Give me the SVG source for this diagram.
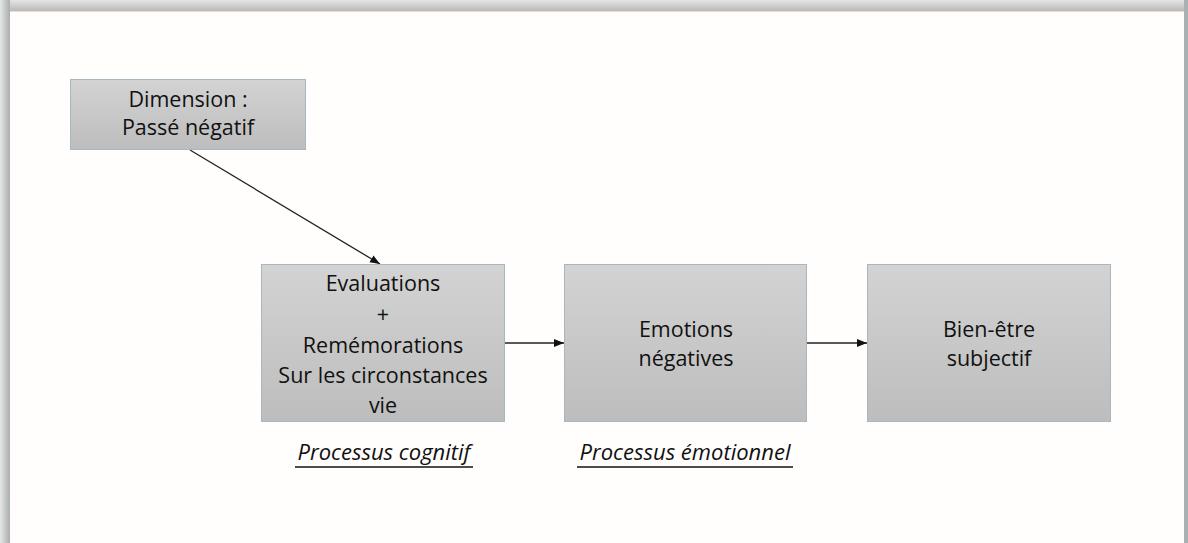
<svg xmlns="http://www.w3.org/2000/svg" width="1188" height="543" viewBox="0 0 1188 543">
<defs>
<linearGradient id="topShadow" x1="0" y1="0" x2="0" y2="1">
<stop offset="0" stop-color="#e4e4e4"/>
<stop offset="1" stop-color="#b4b6b6"/>
</linearGradient>
<linearGradient id="leftShadow" x1="0" y1="0" x2="1" y2="0">
<stop offset="0" stop-color="#e6e6e6"/>
<stop offset="1" stop-color="#a9adad"/>
</linearGradient>
<linearGradient id="boxFill" x1="0" y1="0" x2="0" y2="1">
<stop offset="0" stop-color="#d3d3d3"/>
<stop offset="1" stop-color="#bdbdbd"/>
</linearGradient>
<marker id="arrow" viewBox="0 0 10 10" refX="10" refY="5" markerWidth="10" markerHeight="10" markerUnits="userSpaceOnUse" orient="auto">
<path d="M0,1 L10,5 L0,9 z" fill="#111"/>
</marker>
<style>
.box { fill: url(#boxFill); stroke: #a8b6bd; stroke-width: 1; }
.t { font-family: "Open Sans", "Liberation Sans", sans-serif; font-size: 21.5px; fill: #111; text-anchor: middle; }
.lab { font-family: "Open Sans", "Liberation Sans", sans-serif; font-size: 22px; font-style: italic; fill: #111; text-anchor: middle; }
.ul { stroke: #111; stroke-width: 1.6; }
.conn { stroke: #222; stroke-width: 1.3; fill: none; marker-end: url(#arrow); }
</style>
</defs>
<rect x="0" y="0" width="1188" height="543" fill="#ffffff"/>
<rect x="0" y="0" width="1188" height="12" fill="url(#topShadow)"/>
<rect x="0" y="0" width="10" height="543" fill="url(#leftShadow)"/>
<rect x="1184" y="0" width="4" height="543" fill="#a9b1b3"/>
<rect x="10" y="11" width="1174" height="532" fill="#fffefd"/>
<line x1="10" y1="11.5" x2="1184" y2="11.5" stroke="#f2d8c8" stroke-width="1"/>

<g id="connectors">
<line class="conn" x1="190" y1="150" x2="380" y2="264"/>
<line class="conn" x1="505" y1="343" x2="564" y2="343"/>
<line class="conn" x1="807" y1="343" x2="867" y2="343"/>
</g>

<g id="node-dimension">
<rect class="box" x="70.5" y="79.5" width="235" height="70"/>
<text class="t" x="188" y="107">Dimension :</text>
<text class="t" x="188" y="135">Passé négatif</text>
</g>

<g id="node-evaluations">
<rect class="box" x="261.5" y="264.5" width="243" height="157"/>
<text class="t" x="383" y="291">Evaluations</text>
<text class="t" x="383" y="322">+</text>
<text class="t" x="383" y="353">Remémorations</text>
<text class="t" x="383" y="383">Sur les circonstances</text>
<text class="t" x="383" y="413">vie</text>
</g>

<g id="node-emotions">
<rect class="box" x="564.5" y="264.5" width="242" height="157"/>
<text class="t" x="686" y="337">Emotions</text>
<text class="t" x="686" y="366">négatives</text>
</g>

<g id="node-bienetre">
<rect class="box" x="867.5" y="264.5" width="243" height="157"/>
<text class="t" x="989" y="337">Bien-être</text>
<text class="t" x="989" y="366">subjectif</text>
</g>

<g id="label-cognitif">
<text class="lab" x="384" y="460">Processus cognitif</text>
<line class="ul" x1="295" y1="467" x2="473" y2="467"/>
</g>
<g id="label-emotionnel">
<text class="lab" x="685" y="460">Processus émotionnel</text>
<line class="ul" x1="577" y1="467" x2="793" y2="467"/>
</g>
</svg>
